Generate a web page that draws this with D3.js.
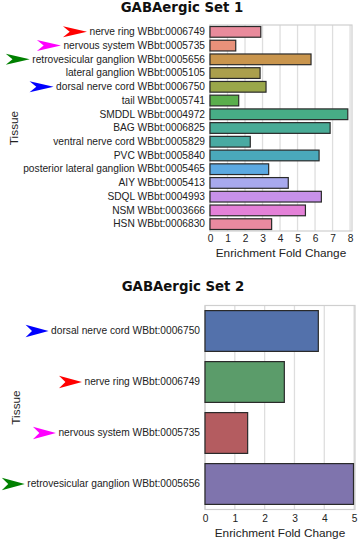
<!DOCTYPE html>
<html><head><meta charset="utf-8">
<script src="https://cdn.jsdelivr.net/npm/d3@7"></script>
<style>html,body{margin:0;padding:0;background:#fff;}svg{display:block;}</style>
</head><body>
<script>
// ---- data ----
const set1Title = "GABAergic Set 1";
const set1Tissues = ["nerve ring WBbt:0006749", "nervous system WBbt:0005735", "retrovesicular ganglion WBbt:0005656", "lateral ganglion WBbt:0005105", "dorsal nerve cord WBbt:0006750", "tail WBbt:0005741", "SMDDL WBbt:0004972", "BAG WBbt:0006825", "ventral nerve cord WBbt:0005829", "PVC WBbt:0005840", "posterior lateral ganglion WBbt:0005465", "AIY WBbt:0005413", "SDQL WBbt:0004993", "NSM WBbt:0003666", "HSN WBbt:0006830"];
const set1Values = [2.9, 1.47, 5.77, 2.86, 3.2, 1.64, 7.87, 6.86, 2.3, 6.23, 3.35, 4.47, 6.36, 5.45, 3.52];
const set1Colors = ["#e98b9c", "#e8917a", "#c9954d", "#ab9f4c", "#9aa74a", "#5aae4c", "#47ad86", "#49ab96", "#49aaa2", "#4aa8bb", "#5ca9e2", "#a8a9ee", "#c791ea", "#e481d8", "#e98aa0"];
const set1Arrows = ["#ff0000", "#ff00ff", "#008000", null, "#0000ff", null, null, null, null, null, null, null, null, null, null];
const set1Ticks = [0, 1, 2, 3, 4, 5, 6, 7, 8];

const set2Title = "GABAergic Set 2";
const set2Tissues = ["dorsal nerve cord WBbt:0006750", "nerve ring WBbt:0006749", "nervous system WBbt:0005735", "retrovesicular ganglion WBbt:0005656"];
const set2Values = [3.8, 2.66, 1.43, 4.98];
const set2Colors = ["#5371ab", "#5b9c6a", "#b45c60", "#7f74ad"];
const set2Arrows = ["#0000ff", "#ff0000", "#ff00ff", "#008000"];
const set2Ticks = [0, 1, 2, 3, 4, 5];

const xLabel = "Enrichment Fold Change";
const yLabel = "Tissue";

const W = 358, H = 540;
const svg = d3.select("body").append("svg").attr("width", W).attr("height", H);
const LABEL_FONT = "'Liberation Sans', Arial, Helvetica, sans-serif";

function drawChart(o) {
  const g = svg.append("g");
  const x = d3.scaleLinear().domain([0, o.xmax]).range([o.left, o.right]);
  const y = d3.scaleBand().domain(o.tissues).range([o.top, o.bottom]).paddingInner(o.pad).paddingOuter(o.pad / 2);

  // title
  g.append("text").attr("x", o.titleX).attr("y", o.titleY).attr("text-anchor", "middle")
    .attr("font-family", "'DejaVu Sans', sans-serif").attr("font-weight", "bold")
    .attr("font-size", 13.3).attr("fill", "#111").text(o.title);

  // grid
  g.append("g").selectAll("line").data(o.ticks).join("line")
    .attr("x1", d => x(d)).attr("x2", d => x(d)).attr("y1", o.top).attr("y2", o.bottom)
    .attr("stroke", "#dedede").attr("stroke-width", 1.3);
  // frame
  g.append("rect").attr("x", o.left).attr("y", o.top).attr("width", o.right - o.left).attr("height", o.bottom - o.top)
    .attr("fill", "none").attr("stroke", "#cfcfcf").attr("stroke-width", 1.2);

  // bars
  g.append("g").selectAll("rect").data(o.tissues).join("rect")
    .attr("x", x(0)).attr("y", d => y(d)).attr("height", y.bandwidth())
    .attr("width", (d, i) => x(o.values[i]) - x(0))
    .attr("fill", (d, i) => o.colors[i]).attr("stroke", "#2a2a2a").attr("stroke-width", 1.2);

  // x axis (tick labels only)
  const xa = g.append("g").attr("transform", `translate(0,${o.bottom})`)
    .call(d3.axisBottom(x).tickValues(o.ticks).tickFormat(d3.format("d")).tickSize(0).tickPadding(o.tickPad));
  xa.select(".domain").remove();
  xa.selectAll("text").attr("font-family", LABEL_FONT).attr("font-size", 10.2).attr("fill", "#222");

  // y axis labels
  const ya = g.append("g").attr("transform", `translate(${o.left},0)`)
    .call(d3.axisLeft(y).tickSize(0).tickPadding(o.left - o.labelRight));
  ya.select(".domain").remove();
  ya.selectAll("text").attr("font-family", LABEL_FONT).attr("font-size", 10.2).attr("fill", "#222");

  // arrows
  ya.selectAll(".tick").each(function (d, i) {
    const col = o.arrows[i];
    if (!col) return;
    const t = d3.select(this).select("text");
    const len = t.node().getComputedTextLength();
    const tipX = -(o.left - o.labelRight) - len - 2.5;
    const w = o.arrowW, h = o.arrowH;
    d3.select(this).append("path")
      .attr("d", `M${tipX},0 L${tipX - w},${-h / 2} L${tipX - w * 0.72},0 L${tipX - w},${h / 2} Z`)
      .attr("fill", col);
  });

  // axis titles
  g.append("text").attr("x", (o.left + o.right) / 2).attr("y", o.xTitleY).attr("text-anchor", "middle")
    .attr("font-family", LABEL_FONT).attr("font-size", 11.8).attr("fill", "#222").text(xLabel);
  g.append("text").attr("transform", `translate(${o.yTitleX},${(o.top + o.bottom) / 2}) rotate(-90)`)
    .attr("text-anchor", "middle").attr("font-family", LABEL_FONT).attr("font-size", 11.8).attr("fill", "#222").text(yLabel);
}

drawChart({
  title: set1Title, tissues: set1Tissues, values: set1Values, colors: set1Colors, arrows: set1Arrows, ticks: set1Ticks,
  xmax: 8.11, left: 210, right: 352, top: 25, bottom: 231, pad: 0.22, labelRight: 205,
  titleX: 182, titleY: 12, tickPad: 4, xTitleY: 257, yTitleX: 17.5, arrowW: 24, arrowH: 11
});
drawChart({
  title: set2Title, tissues: set2Tissues, values: set2Values, colors: set2Colors, arrows: set2Arrows, ticks: set2Ticks,
  xmax: 5.03, left: 205, right: 355, top: 305.5, bottom: 509.5, pad: 0.2, labelRight: 200,
  titleX: 183, titleY: 291, tickPad: 5, xTitleY: 537, yTitleX: 20, arrowW: 23, arrowH: 12.5
});
</script>
</body></html>
